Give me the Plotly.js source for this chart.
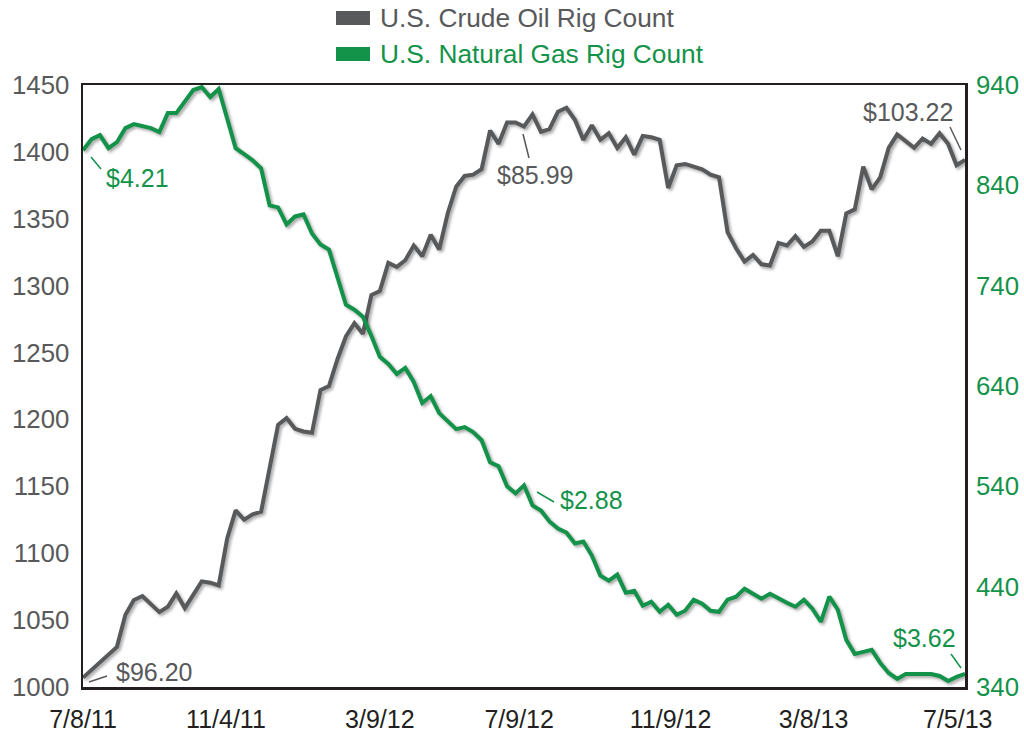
<!DOCTYPE html>
<html>
<head>
<meta charset="utf-8">
<script src="https://cdn.plot.ly/plotly-3.0.1.min.js"></script>
<style>
  html, body { margin: 0; padding: 0; background: #fff; }
  #chart { width: 1024px; height: 737px; }
</style>
</head>
<body>
<div id="chart"></div>
<script>
// Weekly rig counts, 7/8/11 .. 7/5/13 (105 weeks)
const startDate = '2011-07-08';
const weekCount = 105;

const oilRigs = [
  1007, 1013, 1019, 1024, 1030, 1054, 1065, 1068, 1062, 1056,
  1060, 1070, 1059, 1069, 1079, 1078, 1076, 1111, 1132, 1125,
  1129, 1131, 1162, 1196, 1201, 1193, 1191, 1190, 1222, 1225,
  1245, 1262, 1272, 1264, 1293, 1296, 1317, 1314, 1319, 1330,
  1322, 1338, 1327, 1354, 1374, 1382, 1383, 1387, 1416, 1406,
  1422, 1422, 1419, 1428, 1415, 1417, 1430, 1433, 1424, 1409,
  1420, 1409, 1414, 1403, 1411, 1398, 1412, 1411, 1409, 1373,
  1390, 1391, 1389, 1387, 1383, 1381, 1340, 1328, 1318, 1323,
  1316, 1315, 1332, 1330, 1337, 1329, 1333, 1341, 1341, 1322,
  1354, 1357, 1389, 1372, 1381, 1403, 1413, 1408, 1403, 1410,
  1406, 1414, 1406, 1390, 1394
];

const gasRigs = [
  875, 886, 890, 877, 883, 897, 901, 899, 897, 893,
  912, 912, 923, 935, 938, 928, 936, 905, 877, 871,
  865, 857, 820, 818, 801, 809, 811, 792, 781, 776,
  748, 721, 716, 709, 690, 669, 662, 652, 658, 644,
  623, 630, 613, 605, 597, 599, 594, 586, 564, 560,
  540, 533, 541, 521, 516, 505, 498, 494, 483, 485,
  471, 451, 446, 452, 434, 436, 421, 425, 415, 422,
  412, 416, 427, 423, 416, 415, 427, 430, 438, 433,
  428, 433, 428, 424, 420, 427, 418, 405, 430, 417,
  387, 373, 375, 377, 364, 354, 348, 353, 353, 353,
  353, 351, 346, 350, 353
];

const tickDates = ['2011-07-08', '2011-11-03', '2012-03-09', '2012-07-02', '2012-11-04', '2013-03-02', '2013-06-29'];
const tickLabels = ['7/8/11', '11/4/11', '3/9/12', '7/9/12', '11/9/12', '3/8/13', '7/5/13'];

const leftTicks = [1000, 1050, 1100, 1150, 1200, 1250, 1300, 1350, 1400, 1450];
const rightTicks = [340, 440, 540, 640, 740, 840, 940];

const seriesNames = ['U.S. Crude Oil Rig Count', 'U.S. Natural Gas Rig Count'];
const priceLabels = ['$96.20', '$4.21', '$85.99', '$103.22', '$2.88', '$3.62'];

// weekly dates
const dates = [];
{
  const d0 = new Date(startDate + 'T00:00:00Z');
  for (let i = 0; i < weekCount; i++) {
    const d = new Date(d0.getTime() + i * 7 * 86400000);
    dates.push(d.toISOString().slice(0, 10));
  }
}

const GRAY = '#58595b';
const GREEN = '#13934a';
const FONT = 'Liberation Sans, Arial, sans-serif';

const traces = [
  { x: dates, y: oilRigs, type: 'scatter', mode: 'lines', name: seriesNames[0],
    line: { color: GRAY, width: 4 }, yaxis: 'y', showlegend: false, hoverinfo: 'x+y' },
  { x: dates, y: gasRigs, type: 'scatter', mode: 'lines', name: seriesNames[1],
    line: { color: GREEN, width: 4 }, yaxis: 'y2', showlegend: false, hoverinfo: 'x+y' }
];

// helpers for paper coordinates from pixel positions (plot area 83..965 x 85..687)
const L = 83, R = 965, T = 85, B = 687;
const px = X => (X - L) / (R - L);
const py = Y => (B - Y) / (B - T);

function lead(x0, y0, x1, y1, color) {
  return { type: 'line', xref: 'paper', yref: 'paper', x0: px(x0), y0: py(y0), x1: px(x1), y1: py(y1),
           line: { color: color, width: 1.5 } };
}
function label(text, cx, cy, color) {
  return { text: text, xref: 'paper', yref: 'paper', x: px(cx), y: py(cy), xanchor: 'center', yanchor: 'middle',
           showarrow: false, font: { family: FONT, size: 25, color: color } };
}

const shapes = [
  lead(89, 682, 107, 676, GRAY),
  lead(91, 157, 101, 169, GREEN),
  lead(523, 134, 529, 158, GRAY),
  lead(950, 127, 961, 150, GRAY),
  lead(537, 492, 554, 502, GREEN),
  lead(951, 654, 961, 668, GREEN),
  // legend swatches
  { type: 'rect', xref: 'paper', yref: 'paper', x0: px(336), x1: px(370), y0: py(25), y1: py(11),
    fillcolor: GRAY, line: { width: 0 } },
  { type: 'rect', xref: 'paper', yref: 'paper', x0: px(336), x1: px(370), y0: py(61), y1: py(47),
    fillcolor: GREEN, line: { width: 0 } }
];

const annotations = [
  label(priceLabels[0], 154, 672, GRAY),
  label(priceLabels[1], 137, 178, GREEN),
  label(priceLabels[2], 535, 175, GRAY),
  label(priceLabels[3], 908, 112, GRAY),
  label(priceLabels[4], 591, 500, GREEN),
  label(priceLabels[5], 924, 638, GREEN),
  { text: seriesNames[0], xref: 'paper', yref: 'paper', x: px(378), y: py(18), xanchor: 'left', yanchor: 'middle',
    showarrow: false, font: { family: FONT, size: 26.3, color: GRAY } },
  { text: seriesNames[1], xref: 'paper', yref: 'paper', x: px(378), y: py(54), xanchor: 'left', yanchor: 'middle',
    showarrow: false, font: { family: FONT, size: 26.3, color: GREEN } }
];

const layout = {
  width: 1024, height: 737,
  margin: { l: 83, r: 59, t: 85, b: 50, pad: 0 },
  paper_bgcolor: '#ffffff', plot_bgcolor: '#ffffff',
  font: { family: FONT, size: 25, color: GRAY },
  showlegend: false,
  xaxis: {
    type: 'date', range: [dates[0], dates[dates.length - 1]],
    tickmode: 'array', tickvals: tickDates, ticktext: tickLabels,
    showgrid: false, zeroline: false, ticks: '',
    showline: true, mirror: true, linecolor: '#231f20', linewidth: 2.5,
    tickfont: { family: FONT, size: 25, color: '#231f20' }, ticklabelstandoff: 8
  },
  yaxis: {
    range: [1000, 1450], tickmode: 'array', tickvals: leftTicks,
    showgrid: false, zeroline: false, ticks: '',
    showline: true, mirror: true, linecolor: '#231f20', linewidth: 2.5,
    tickfont: { family: FONT, size: 25.8, color: GRAY }, ticklabelstandoff: 6
  },
  yaxis2: {
    range: [340, 940], tickmode: 'array', tickvals: rightTicks,
    overlaying: 'y', side: 'right',
    showgrid: false, zeroline: false, ticks: '', showline: false,
    tickfont: { family: FONT, size: 25.8, color: GREEN }, ticklabelstandoff: 10
  },
  shapes: shapes,
  annotations: annotations
};

Plotly.newPlot('chart', traces, layout, { displayModeBar: false, staticPlot: true }).then(() => {
  document.querySelectorAll('.scatterlayer .trace path.js-line').forEach(p => {
    p.style.filter = 'drop-shadow(2px 2px 1.5px rgba(0,0,0,0.35))';
  });
});
</script>
</body>
</html>
